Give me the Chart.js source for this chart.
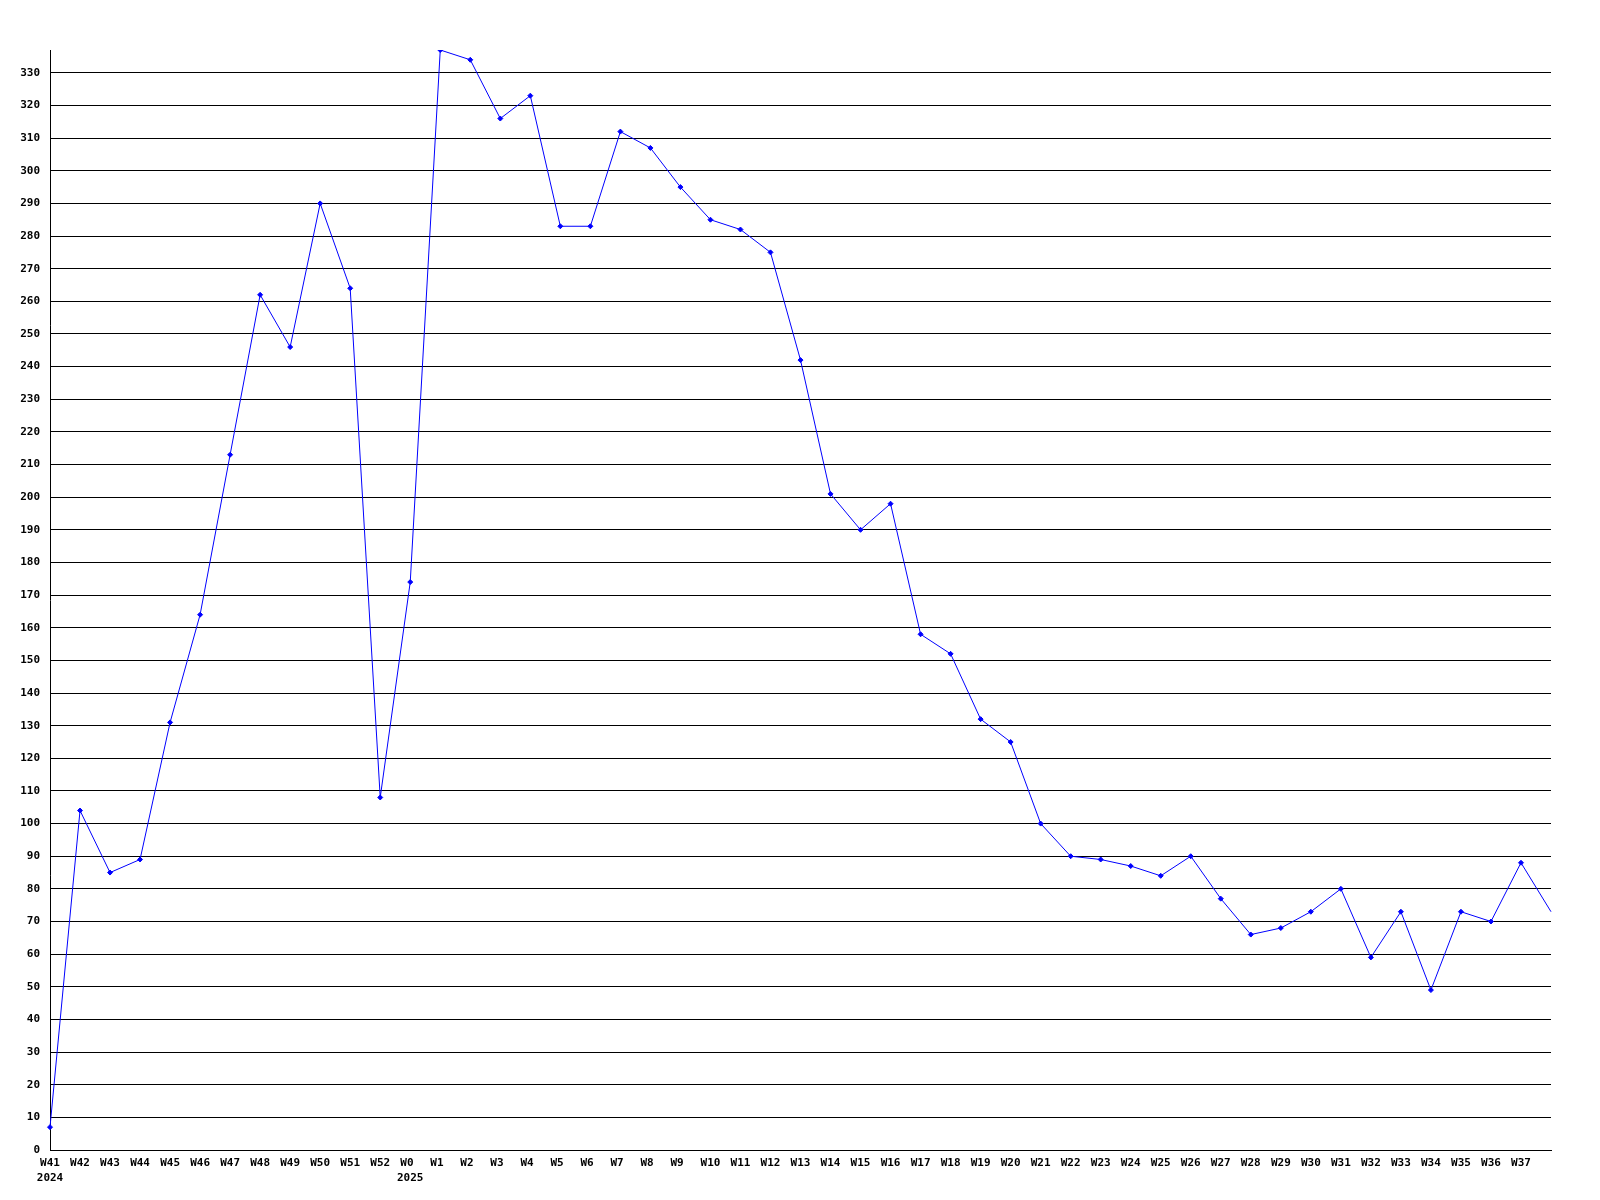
<!DOCTYPE html>
<html>
<head>
<meta charset="utf-8">
<script src="https://cdn.jsdelivr.net/npm/chart.js@4"></script>
<style>
  html, body { margin: 0; padding: 0; background: #fff; }
  canvas { display: block; }
</style>
</head>
<body>
<canvas id="weekly" width="1600" height="1200"></canvas>
<script>
// weeks shown on the x axis (last one is cut off at the edge in the original)
const weeks = ['W41','W42','W43','W44','W45','W46','W47','W48','W49','W50','W51','W52',
  'W0','W1','W2','W3','W4','W5','W6','W7','W8','W9','W10','W11','W12','W13','W14','W15',
  'W16','W17','W18','W19','W20','W21','W22','W23','W24','W25','W26','W27','W28','W29',
  'W30','W31','W32','W33','W34','W35','W36','W37','W38'];

// year markers printed under some weeks
const yearMarks = { 'W41': '2024', 'W0': '2025' };

const counts = [7,104,85,89,131,164,213,262,246,290,264,108,
  174,337,334,316,323,283,283,312,307,295,285,282,275,242,201,190,
  198,158,152,132,125,100,90,89,87,84,90,77,66,68,
  73,80,59,73,49,73,70,88,73];

const yMax = 337;
const yStep = 10;

const font = { family: '"DejaVu Sans Mono", "Liberation Mono", monospace', size: 11, weight: 'bold', lineHeight: 1.35 };

new Chart(document.getElementById('weekly'), {
  type: 'line',
  data: {
    labels: weeks,
    datasets: [{
      data: counts,
      borderColor: '#0000ff',
      backgroundColor: '#0000ff',
      borderWidth: 1,
      pointStyle: 'rectRot',
      pointRadius: ctx => (ctx.dataIndex === weeks.length - 1 ? 0 : 2.5),
      pointBorderWidth: 1,
      tension: 0,
      fill: false
    }]
  },
  options: {
    responsive: false,
    animation: false,
    layout: { padding: { top: 50, right: 49, left: 0, bottom: 0 } },
    plugins: { legend: { display: false }, tooltip: { enabled: false } },
    scales: {
      x: {
        type: 'category',
        offset: false,
        grid: { display: false, drawTicks: false },
        border: { color: '#000', width: 1 },
        afterFit: s => { s.height = 50; },
        ticks: {
          color: '#000',
          font: font,
          autoSkip: false,
          maxRotation: 0,
          padding: 6,
          callback: function (v, i) {
            if (i === weeks.length - 1) return '';
            const w = weeks[i];
            // labels start a fixed distance left of the point, like left-aligned text
            const txt = w.padEnd(3, ' ');
            return yearMarks[w] ? [txt, yearMarks[w]] : txt;
          }
        }
      },
      y: {
        min: 0,
        max: yMax,
        grid: { color: '#000', lineWidth: 1, drawTicks: false },
        border: { color: '#000', width: 1 },
        afterFit: s => { s.width = 50; },
        afterBuildTicks: s => { s.ticks = s.ticks.filter(t => t.value % yStep === 0); },
        ticks: {
          stepSize: yStep,
          color: '#000',
          font: font,
          padding: 10
        }
      }
    }
  }
});
</script>
</body>
</html>
